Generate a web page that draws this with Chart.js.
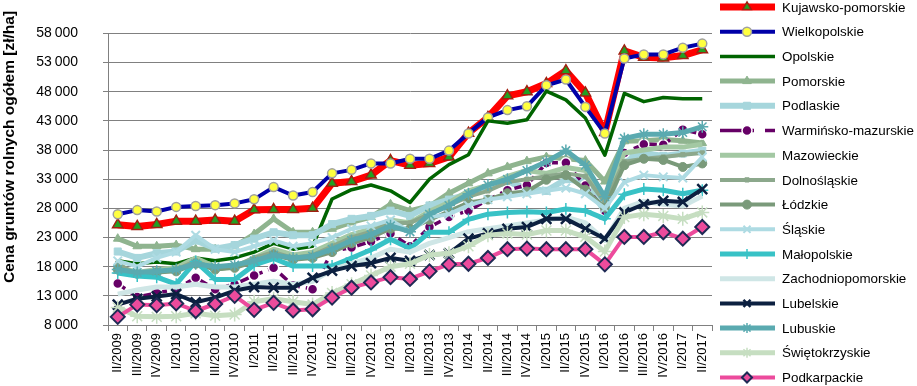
<!DOCTYPE html>
<html>
<head>
<meta charset="utf-8">
<script src="https://cdn.jsdelivr.net/npm/chart.js@4.4.1/dist/chart.umd.min.js"></script>
<style>
html,body{margin:0;padding:0;background:#fff;}
#wrap{width:917px;height:386px;position:relative;}
</style>
</head>
<body>
<div id="wrap"><canvas id="c" width="917" height="386"></canvas></div>
<script>
const categories = ['II/2009','III/2009','IV/2009','I/2010','II/2010','III/2010','IV/2010','I/2011','II/2011','III/2011','IV/2011','I/2012','III/2012','IV/2012','I/2013','II/2013','III/2013','IV/2013','I/2014','II/2014','III/2014','IV/2014','I/2015','II/2015','IV/2015','I/2016','II/2016','III/2016','IV/2016','I/2017','II/2017'];

const yTicks = [8000,13000,18000,23000,28000,33000,38000,43000,48000,53000,58000];
const yTitle = 'Cena gruntów rolnych ogółem [zł/ha]';

const kujawskoPomorskie = [25200,24900,25250,25800,25800,26000,25800,27750,27800,27800,28000,32300,32600,33700,36200,35400,35700,36800,40900,43600,47300,48000,49400,51600,47800,41000,55000,53900,53800,54200,55200];
const wielkopolskie = [27000,27700,27450,28250,28400,28550,28850,29550,31650,30200,30800,34000,34600,35700,35700,36500,36500,37900,40850,43600,44850,45500,49100,50100,45400,40850,53700,54400,54400,55550,56250];
const opolskie = [19000,18500,18800,18500,19500,19000,19500,20500,22000,21000,21500,29600,31200,32000,31000,29000,33000,35500,37200,43000,42600,43200,48100,46600,43500,37100,47700,46300,47000,46800,46800];
const pomorskie = [22800,21500,21500,21700,21000,21000,21500,23600,26200,23900,23900,24500,25600,26500,28700,27600,28400,30600,32300,34000,35100,36100,36800,36500,36200,32600,39500,39600,39800,39600,39200];
const podlaskie = [20600,19500,20300,20600,22500,21100,21700,22800,23900,23400,23400,25300,26200,26700,27600,26700,28500,29500,30500,31500,32500,31500,31000,33000,32500,27500,36500,37500,37000,37400,37900];
const warminskoMazurskie = [15100,12800,13500,14150,16100,14150,15000,16500,17800,14800,14150,20600,21300,22300,23700,21500,24800,26500,27600,29500,31100,32000,35800,35800,31900,27600,37500,39000,38900,41500,40700];
const mazowieckie = [18000,17000,17500,17800,19500,18000,18000,19500,21000,20000,20500,22000,23500,24500,26000,25500,27500,29000,31000,32000,33500,34500,34000,35000,34500,30000,37500,38000,38500,38500,39000];
const dolnoslaskie = [18600,16500,17000,17500,19000,17500,18000,19500,20500,19500,20000,21500,23000,24000,25500,25500,27000,28500,30000,31000,32500,33000,33500,34000,33500,29000,36000,36500,36800,37200,37500];
const lodzkie = [17500,16800,17000,17200,18500,17500,17800,18800,20000,19200,19500,20500,22000,23000,24500,24500,26000,27500,29000,29500,30600,30900,32900,33700,31200,28100,35400,36500,36300,35100,35700];
const slaskie = [19000,18000,19500,20500,23400,21000,20500,21500,22500,21500,22000,23000,24500,25000,26000,24000,26500,27000,28500,29500,30000,30500,31000,31500,30500,28000,32500,33700,33400,33200,36800];
const malopolskie = [16900,16400,16200,15000,18900,15800,15800,18300,19400,18100,18100,18100,19500,20900,22700,21100,23900,23900,26100,27000,27300,27400,27300,27900,27600,26200,30400,31300,31100,30500,31100];
const zachodniopomorskie = [13300,14000,14500,14500,15000,14500,14500,15000,15500,15000,15500,17500,18500,19500,21000,20500,22000,23000,24000,24500,25000,25500,26000,26500,25500,22500,28000,29200,28700,28400,30100];
const lubelskie = [11500,12500,12900,13300,11900,12700,13900,14500,14400,14400,16100,17300,18100,18600,19500,19000,20000,20300,22800,23700,24500,24800,26200,26200,24500,22800,27300,28700,29300,29100,31300];
const lubuskie = [17500,17000,17200,17500,18500,18000,18300,19000,20000,19500,19800,21000,22500,23500,25000,24000,27000,28500,30500,32000,33000,34500,36000,37900,35400,30000,40000,40700,40700,41000,42000];
const swietokrzyskie = [11000,9500,9400,9500,10000,9600,9800,12000,12500,12000,11500,13500,15000,16500,18000,18500,20000,20300,21500,23400,23700,23500,24200,24200,23100,20600,26500,27000,26700,26200,27300];
const podkarpackie = [9400,11500,11400,11700,10400,11600,13000,10600,11800,10500,10700,12700,14400,15300,16200,15900,17200,18400,18500,19500,21000,21100,21000,21000,21000,18400,23100,23100,23900,22800,24800];

const seriesNames = ['Kujawsko-pomorskie','Wielkopolskie','Opolskie','Pomorskie','Podlaskie','Warmińsko-mazurskie','Mazowieckie','Dolnośląskie','Łódzkie','Śląskie','Małopolskie','Zachodniopomorskie','Lubelskie','Lubuskie','Świętokrzyskie','Podkarpackie'];
const seriesValues = [kujawskoPomorskie,wielkopolskie,opolskie,pomorskie,podlaskie,warminskoMazurskie,mazowieckie,dolnoslaskie,lodzkie,slaskie,malopolskie,zachodniopomorskie,lubelskie,lubuskie,swietokrzyskie,podkarpackie];

const styles = [
  {c:'#FF0000', w:7, ps:'triangle', r:6, bg:'#22A022', bc:'#A02010', bw:1.5},
  {c:'#0000A8', w:4, ps:'circle', r:4.5, bg:'#FFFF40', bc:'#A0A0A0', bw:1.5},
  {c:'#006400', w:3.5, ps:false},
  {c:'#8FB48F', w:5, ps:'triangle', r:5, bg:'#8FB48F', bc:'#8FB48F', bw:1},
  {c:'#A6D6DC', w:6, ps:'rect', r:5, bg:'#A6D6DC', bc:'#A6D6DC', bw:1},
  {c:'#660066', w:3.5, ps:'circle', r:5, bg:'#660066', bc:'#FFFFFF', bw:1.5, dash:[9,6]},
  {c:'#A3C8A3', w:5, ps:false},
  {c:'#8CA88C', w:4, ps:'rect', r:3, bg:'#8CA88C', bc:'#8CA88C', bw:1},
  {c:'#7A9A7A', w:4, ps:'circle', r:4.5, bg:'#7A9A7A', bc:'#7A9A7A', bw:1},
  {c:'#AEDBE3', w:4, ps:'crossRot', r:6, bg:'#AEDBE3', bc:'#AEDBE3', bw:2},
  {c:'#38C2C6', w:5, ps:'cross', r:6, bg:'#38C2C6', bc:'#38C2C6', bw:1.5},
  {c:'#CFE6E6', w:5, ps:false},
  {c:'#0C2040', w:4, ps:'crossRot', r:7, bg:'#0C2040', bc:'#0C2040', bw:2.5},
  {c:'#5AAAB0', w:5, ps:'star', r:6, bg:'#5AAAB0', bc:'#5AAAB0', bw:1.5},
  {c:'#C6DEC1', w:5, ps:'star', r:7, bg:'#C6DEC1', bc:'#C6DEC1', bw:1.5},
  {c:'#EC4B9C', w:4, ps:'rectRot', r:7, bg:'#EC4B9C', bc:'#1F2A55', bw:2}
];

const datasets = seriesNames.map((name,i)=>{
  const s = styles[i];
  return {
    label: name,
    data: seriesValues[i],
    borderColor: s.c,
    backgroundColor: s.bg || s.c,
    borderWidth: s.w,
    borderDash: s.dash || [],
    pointStyle: s.ps,
    pointRadius: s.ps ? s.r : 0,
    pointBackgroundColor: s.bg,
    pointBorderColor: s.bc,
    pointBorderWidth: s.bw,
    tension: 0,
    fill: false,
    borderJoinStyle: 'round',
    order: seriesNames.length - i
  };
});

const FONT = '"Liberation Sans", Arial, sans-serif';

const legendPlugin = {
  id: 'sideLegend',
  afterDraw(chart){
    const ctx = chart.ctx;
    ctx.save();
    chart.data.datasets.forEach((d,i)=>{
      const s = styles[i];
      const y = 7 + 24.7*i;
      ctx.strokeStyle = s.c;
      ctx.lineWidth = s.w;
      ctx.lineCap = 'butt';
      ctx.setLineDash([]);
      ctx.beginPath();
      if (s.dash){
        ctx.moveTo(720,y); ctx.lineTo(754,y);
        ctx.moveTo(765,y); ctx.lineTo(775,y);
      } else {
        ctx.moveTo(720,y); ctx.lineTo(775,y);
      }
      ctx.stroke();
      if (s.ps){
        ctx.fillStyle = s.bg; ctx.strokeStyle = s.bc;
        ctx.lineWidth = s.bw;
        Chart.helpers.drawPoint(ctx, {pointStyle:s.ps, radius:Math.min(s.r,5), borderWidth:s.bw, rotation:0}, 747, y);
      }
      ctx.fillStyle = '#000';
      ctx.font = '13.4px ' + FONT;
      ctx.textBaseline = 'middle';
      ctx.textAlign = 'left';
      ctx.fillText(d.label, 782, y+1);
    });
    // y axis title
    ctx.translate(10, 147);
    ctx.rotate(-Math.PI/2);
    ctx.font = 'bold 15.5px ' + FONT;
    ctx.textAlign = 'center';
    ctx.textBaseline = 'middle';
    ctx.fillStyle = '#000';
    ctx.fillText(yTitle, 0, 0);
    ctx.restore();
  }
};

new Chart(document.getElementById('c'), {
  type: 'line',
  data: { labels: categories, datasets },
  plugins: [legendPlugin],
  options: {
    responsive: false,
    animation: false,
    devicePixelRatio: 1,
    layout: { padding: { top: 27, right: 205, left: 0, bottom: 0 } },
    plugins: { legend: { display: false }, tooltip: { enabled: false } },
    scales: {
      x: {
        type: 'category',
        offset: true,
        afterFit(s){ s.height = 61; },
        grid: { offset: true, drawOnChartArea: false, drawTicks: true, tickLength: 6, color: '#808080', lineWidth: 1 },
        border: { color: '#808080', width: 1 },
        ticks: {
          autoSkip: false, maxRotation: 90, minRotation: 90, padding: 2,
          color: '#000', font: { family: FONT, size: 13 }
        }
      },
      y: {
        min: 8000, max: 58000,
        afterFit(s){ s.width = 108; },
        afterBuildTicks(s){ s.ticks = yTicks.map(v=>({value:v})); },
        grid: { color: '#808080', lineWidth: 1, tickLength: 5 },
        border: { color: '#808080', width: 1 },
        ticks: {
          padding: 25, color: '#000',
          font: { family: FONT, size: 14 },
          callback: v => (Math.round(v/1000)) + '\u2009000'
        }
      }
    }
  }
});
</script>
</body>
</html>
